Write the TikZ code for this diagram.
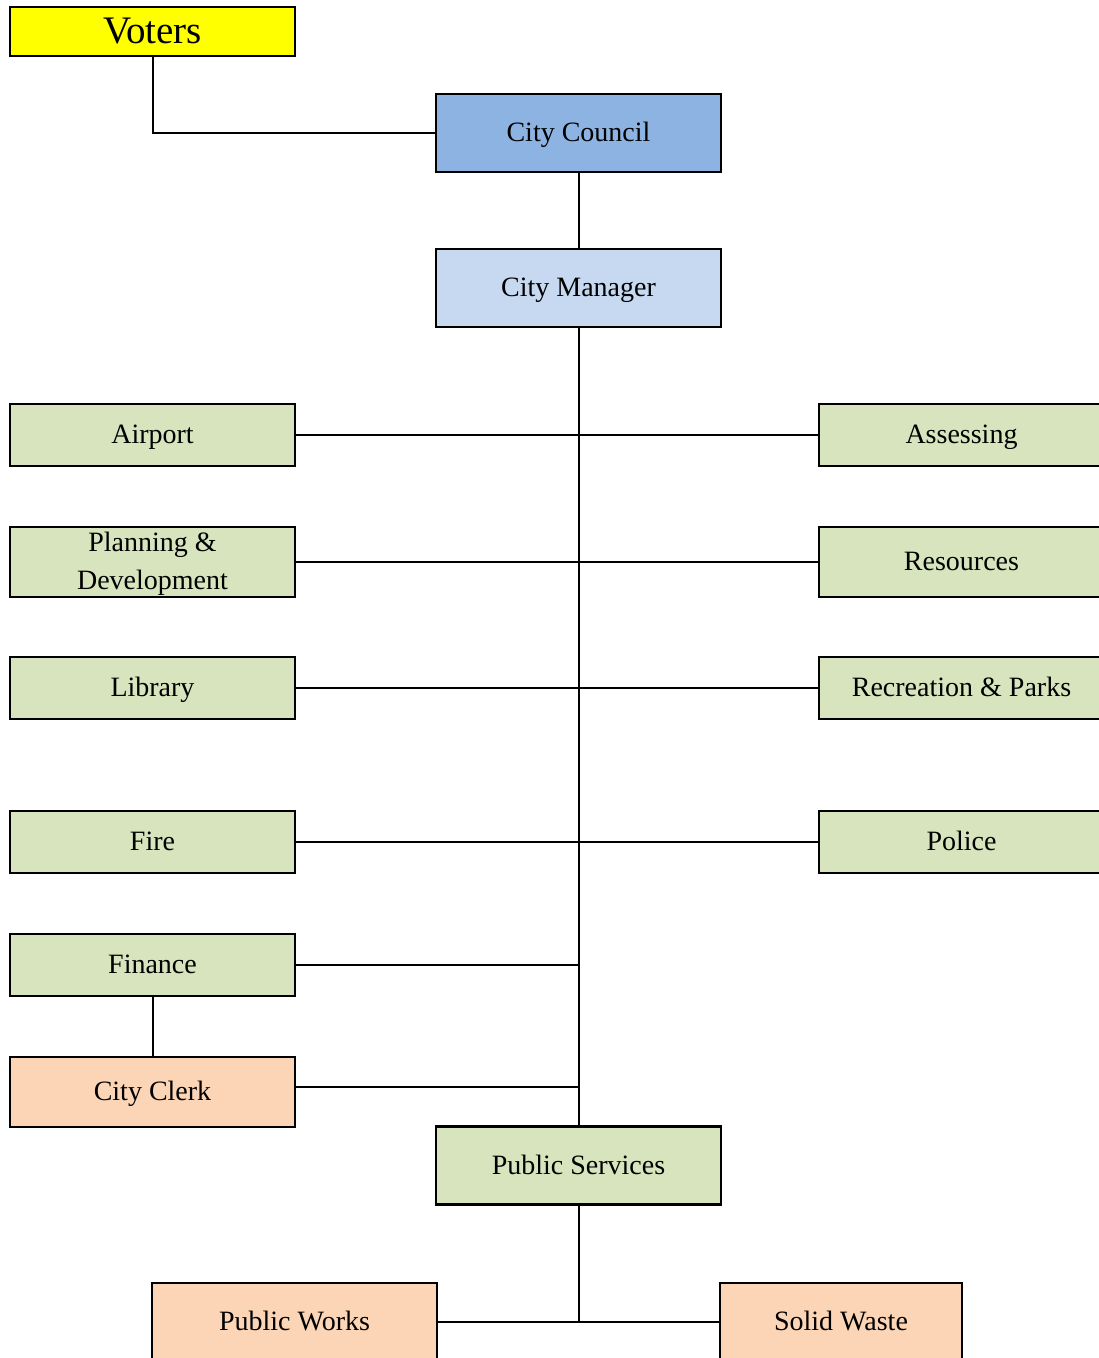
\documentclass[tikz,border=0pt]{standalone}
\usepackage{fontspec}
\setmainfont{Liberation Serif}
\usetikzlibrary{positioning,calc}
\definecolor{voteryellow}{RGB}{255,255,0}
\definecolor{councilblue}{RGB}{141,179,226}
\definecolor{managerblue}{RGB}{198,217,241}
\definecolor{deptgreen}{RGB}{215,228,189}
\definecolor{clerkorange}{RGB}{251,213,181}

\tikzset{
  orgbox/.style={draw=black, line width=2.2pt, minimum width=285pt, minimum height=62pt,
    inner sep=2pt, align=center, text depth=2pt, font=\fontsize{28}{38}\selectfont},
  tallbox/.style={orgbox, minimum height=78pt},
  midbox/.style={orgbox, minimum height=70pt},
  link/.style={line width=2pt}
}

\begin{document}
\begin{tikzpicture}[x=1pt,y=-1pt]
\useasboundingbox (0,0) rectangle (1099,1358);
\clip (0,0) rectangle (1099,1358);

% top of the chart
\node[orgbox, fill=voteryellow, minimum height=49pt, font=\fontsize{39}{42}\selectfont] (voters) at (152.5,31.5) {Voters};
\node[tallbox, fill=councilblue] (council) at (578.5,133) {City Council};
\node[tallbox, fill=managerblue] (manager) at (578.5,288) {City Manager};

% departments, left column
\node[orgbox, fill=deptgreen] (airport) at (152.5,435) {Airport};
\node[midbox, fill=deptgreen] (planning) at (152.5,562) {Planning \&\\Development};
\node[orgbox, fill=deptgreen] (library) at (152.5,688) {Library};
\node[orgbox, fill=deptgreen] (fire) at (152.5,842) {Fire};
\node[orgbox, fill=deptgreen] (finance) at (152.5,965) {Finance};
\node[midbox, fill=clerkorange] (clerk) at (152.5,1092) {City Clerk};

% departments, right column
\node[orgbox, fill=deptgreen] (assessing) at (961.5,435) {Assessing};
\node[midbox, fill=deptgreen] (resources) at (961.5,562) {Resources};
\node[orgbox, fill=deptgreen] (recparks) at (961.5,688) {Recreation \& Parks};
\node[orgbox, fill=deptgreen] (police) at (961.5,842) {Police};

% public services
\node[tallbox, fill=deptgreen] (pubsvc) at (578.5,1165.5) {Public Services};
\node[tallbox, fill=clerkorange] (pworks) at (294.5,1322) {Public Works};
\node[tallbox, fill=clerkorange, minimum width=242pt] (swaste) at (841,1322) {Solid Waste};

% connectors
\draw[link] (voters.south) |- (council.west);
\draw[link] (council.south) -- (manager.north);
\draw[link] (manager.south) -- (pubsvc.north);
\draw[link] (airport.east) -- (assessing.west);
\draw[link] (planning.east) -- (resources.west);
\draw[link] (library.east) -- (recparks.west);
\draw[link] (fire.east) -- (police.west);
\draw[link] (finance.east) -- (finance.east -| manager.south);
\draw[link] ([yshift=5pt]clerk.east) -- ([yshift=5pt]clerk.east -| manager.south);
\draw[link] (finance.south) -- (clerk.north);
\draw[link] (pubsvc.south) -- (pubsvc.south |- pworks.east);
\draw[link] (pworks.east) -- (swaste.west);
\end{tikzpicture}
\end{document}
